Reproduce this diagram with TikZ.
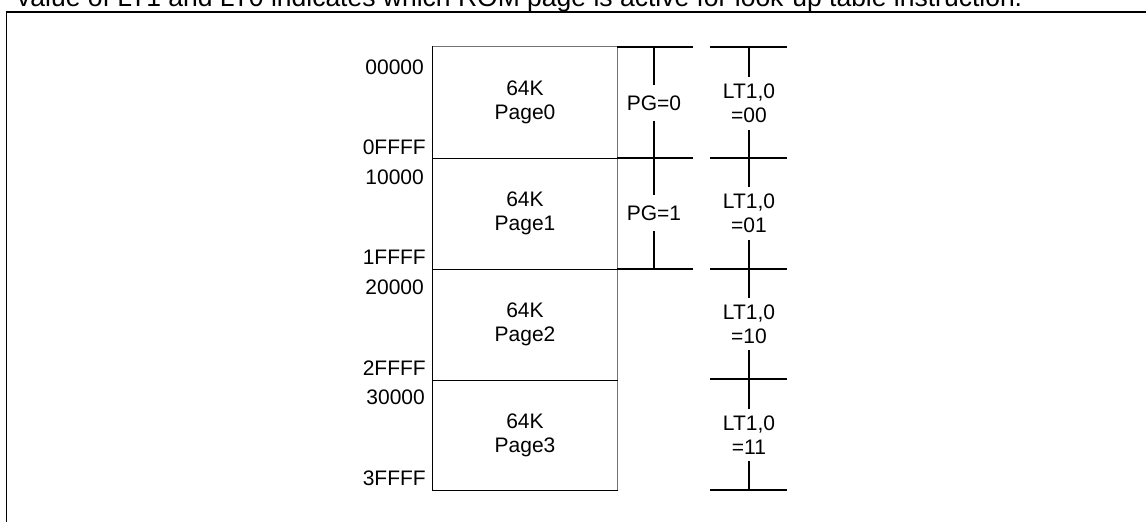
\documentclass[tikz,border=0pt]{standalone}
\usepackage{fontspec}
\setmainfont{Liberation Sans}
\begin{document}
\begin{tikzpicture}[x=1pt,y=-1pt,
  every node/.style={font=\fontsize{21}{24}\selectfont, inner sep=0pt},
  ln/.style={line width=1.2pt, line cap=rect},
  gln/.style={line width=1.2pt, draw=black!55},
  page/.style={minimum width=184pt, minimum height=111pt, align=center},
  pglab/.style={minimum height=36pt},
  ltlab/.style={minimum height=53pt, align=center},
  addr/.style={anchor=base east}]
\useasboundingbox (0,0) rectangle (1146,522);
\clip (0,0) rectangle (1146,522);
% caption (cut off at the top)
\node[anchor=base west, font=\fontsize{26.5}{30}\selectfont] (cap) at (17,6.5) {value of LT1 and LT0 indicates which ROM page is active for look-up table instruction.};
% frame
\draw[line width=1.6pt] (6.5,540) -- (6.5,12) -- (1160,12);
% pages
\node[page] (p0) at (525,102.5) {64K\\Page0};
\node[page] (p1) at (525,213.5) {64K\\Page1};
\node[page] (p2) at (525,324.5) {64K\\Page2};
\node[page] (p3) at (525,435) {64K\\Page3};
\draw[gln] (p0.north west) -- (p0.north east);
\draw[gln] (p0.north east) -- (p3.south east);
\draw[ln] (p0.north west) -- (p3.south west) -- (p3.south east);
\draw[ln] (p0.south west) -- (p0.south east);
\draw[ln] (p1.south west) -- (p1.south east);
\draw[ln] (p2.south west) -- (p2.south east);
% addresses
\node[addr] (a0) at (424,74) {00000};
\node[addr] (a1) at (426,154) {0FFFF};
\node[addr] (a2) at (424,184) {10000};
\node[addr] (a3) at (426,264) {1FFFF};
\node[addr] (a4) at (424,294) {20000};
\node[addr] (a5) at (426,375) {2FFFF};
\node[addr] (a6) at (425,404) {30000};
\node[addr] (a7) at (426,485) {3FFFF};
% PG column
\draw[ln] (618,47) -- (692,47);
\draw[ln] (618,158) -- (692,158);
\draw[ln] (618,269) -- (692,269);
\coordinate (pgt0) at (654,47);
\coordinate (pgt2) at (654,269);
\node[pglab] (pg0) at (654,103) {PG=0};
\node[pglab] (pg1) at (654,213) {PG=1};
\draw[ln] (pgt0) -- (pg0.north);
\draw[ln] (pg0.south) -- (pg1.north);
\draw[ln] (pg1.south) -- (pgt2);
% LT column
\foreach \yy in {47,158,269,379,490}{\draw[ln] (711,\yy) -- (786,\yy);}
\coordinate (ltt0) at (749,47);
\coordinate (ltt4) at (749,490);
\node[ltlab] (lt0) at (749,103.5) {LT1,0\\=00};
\node[ltlab] (lt1) at (749,213.5) {LT1,0\\=01};
\node[ltlab] (lt2) at (749,324) {LT1,0\\=10};
\node[ltlab] (lt3) at (749,435) {LT1,0\\=11};
\draw[ln] (ltt0) -- (lt0.north);
\draw[ln] (lt0.south) -- (lt1.north);
\draw[ln] (lt1.south) -- (lt2.north);
\draw[ln] (lt2.south) -- (lt3.north);
\draw[ln] (lt3.south) -- (ltt4);
\end{tikzpicture}
\end{document}
